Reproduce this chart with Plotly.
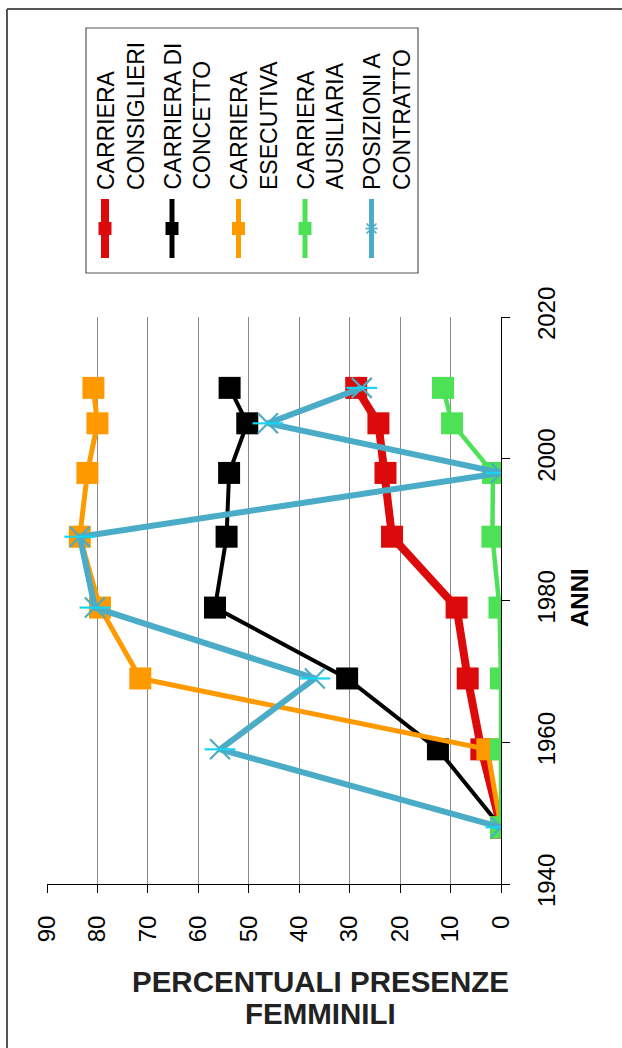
import plotly.graph_objects as go

# Anni di rilevazione
anni = [1948, 1959, 1969, 1979, 1989, 1998, 2005, 2010]

# Percentuali di presenze femminili per carriera
consiglieri = [0, 3.9, 6.6, 8.8, 21.6, 22.9, 24.3, 28.7]
concetto = [0, 12.5, 30.5, 56.7, 54.4, 53.9, 50.3, 53.8]
esecutiva = [0, 2.7, 71.5, 79.5, 83.5, 82.0, 80.0, 80.8]
ausiliaria = [0, 0, 0, 0.3, 1.7, 1.6, 9.7, 11.5]
contratto = [0, 55.7, 36.9, 80.5, 83.5, 0, 46.2, 27.6]

nomi = [
    "CARRIERA<br>CONSIGLIERI",
    "CARRIERA DI<br>CONCETTO",
    "CARRIERA<br>ESECUTIVA",
    "CARRIERA<br>AUSILIARIA",
    "POSIZIONI A<br>CONTRATTO",
]
colori = ["#dc0a0a", "#000000", "#ff9900", "#4de256", "#4aacc6"]
spessori = [8, 4, 5, 4.5, 6]

tick_perc = [0, 10, 20, 30, 40, 50, 60, 70, 80, 90]
tick_anni = [1940, 1960, 1980, 2000, 2020]

W, H = 622, 1048
FONT = "Liberation Sans, Arial, sans-serif"


def px(x):
    return x / W


def py(y):
    return 1 - y / H


serie = [consiglieri, concetto, esecutiva, ausiliaria, contratto]

fig = go.Figure()

for i, valori in enumerate(serie):
    if i < 4:
        fig.add_trace(go.Scatter(
            x=valori, y=anni, mode="lines+markers",
            line=dict(color=colori[i], width=spessori[i]),
            marker=dict(symbol="square", size=22, color=colori[i],
                        line=dict(width=0)),
            showlegend=False, hoverinfo="skip",
        ))
    else:
        fig.add_trace(go.Scatter(
            x=valori, y=anni, mode="lines+markers",
            line=dict(color=colori[i], width=spessori[i]),
            marker=dict(symbol="x-thin-open", size=20,
                        line=dict(color=colori[i], width=2.2)),
            showlegend=False, hoverinfo="skip",
        ))
        fig.add_trace(go.Scatter(
            x=valori, y=anni, mode="markers",
            marker=dict(symbol="line-ew-open", size=22,
                        line=dict(color=colori[i], width=2.2)),
            showlegend=False, hoverinfo="skip",
        ))

shapes = []
annotations = []

# cornice esterna
shapes.append(dict(type="line", xref="paper", yref="paper",
                   x0=px(7), x1=px(W + 5), y0=py(9), y1=py(9),
                   line=dict(color="#555555", width=2)))
shapes.append(dict(type="line", xref="paper", yref="paper",
                   x0=px(7), x1=px(7), y0=py(9), y1=py(H + 5),
                   line=dict(color="#555555", width=2)))

# riquadro della legenda
shapes.append(dict(type="rect", xref="paper", yref="paper",
                   x0=px(86), x1=px(418), y0=py(28), y1=py(273),
                   line=dict(color="#555555", width=1.2),
                   fillcolor="rgba(0,0,0,0)"))

leg_x = [105, 172, 238.5, 305, 371.5]
for i in range(5):
    cx = leg_x[i]
    shapes.append(dict(type="line", xref="paper", yref="paper",
                       x0=px(cx), x1=px(cx), y0=py(199), y1=py(258),
                       line=dict(color=colori[i], width=spessori[i] if i == 0 else 5)))
    if i < 4:
        shapes.append(dict(type="rect", xref="paper", yref="paper",
                           x0=px(cx - 6.5), x1=px(cx + 6.5),
                           y0=py(222), y1=py(235),
                           line=dict(width=0), fillcolor=colori[i]))
    else:
        for (dx0, dy0, dx1, dy1) in [(-5, -5, 5, 5), (-5, 5, 5, -5), (-6, 0, 6, 0)]:
            shapes.append(dict(type="line", xref="paper", yref="paper",
                               x0=px(cx + dx0), x1=px(cx + dx1),
                               y0=py(228.5 + dy0), y1=py(228.5 + dy1),
                               line=dict(color=colori[i], width=1.6)))
    annotations.append(dict(
        text=nomi[i], xref="paper", yref="paper",
        x=px(cx - 14), y=py(192), xanchor="left", yanchor="bottom",
        textangle=-90, align="left", showarrow=False,
        font=dict(family=FONT, size=23, color="#000000"),
    ))

annotations.append(dict(
    text="<b>ANNI</b>", xref="paper", yref="paper",
    x=px(579), y=py(598), xanchor="center", yanchor="middle",
    textangle=-90, showarrow=False,
    font=dict(family=FONT, size=24, color="#000000"),
))
for testo, yc in [("PERCENTUALI PRESENZE", 981), ("FEMMINILI", 1013)]:
    annotations.append(dict(
        text="<b>" + testo + "</b>", xref="paper", yref="paper",
        x=px(320), y=py(yc), xanchor="center", yanchor="middle",
        showarrow=False,
        font=dict(family=FONT, size=29.5, color="#222222"),
    ))

fig.update_layout(
    width=W, height=H,
    margin=dict(l=0, r=0, t=0, b=0),
    paper_bgcolor="white", plot_bgcolor="white",
    shapes=shapes, annotations=annotations,
    xaxis=dict(
        domain=[px(47), px(501)], range=[90, 0],
        tickmode="array", tickvals=tick_perc,
        ticks="outside", ticklen=8, tickcolor="#000", tickwidth=1,
        tickangle=-90, ticklabelstandoff=13,
        showline=True, linecolor="#000", linewidth=1,
        showgrid=True, gridcolor="#8a8a8a", gridwidth=1,
        zeroline=False, automargin=False,
        tickfont=dict(family=FONT, size=24, color="#000"),
    ),
    yaxis=dict(
        domain=[py(884), py(317)], range=[1940, 2020], side="right",
        tickmode="array", tickvals=tick_anni,
        ticks="outside", ticklen=8, tickcolor="#000", tickwidth=1,
        tickangle=-90, ticklabelstandoff=16,
        showline=True, linecolor="#000", linewidth=1,
        showgrid=False, zeroline=False, automargin=False,
        tickfont=dict(family=FONT, size=24, color="#000"),
    ),
)

fig.write_html("out.html")
